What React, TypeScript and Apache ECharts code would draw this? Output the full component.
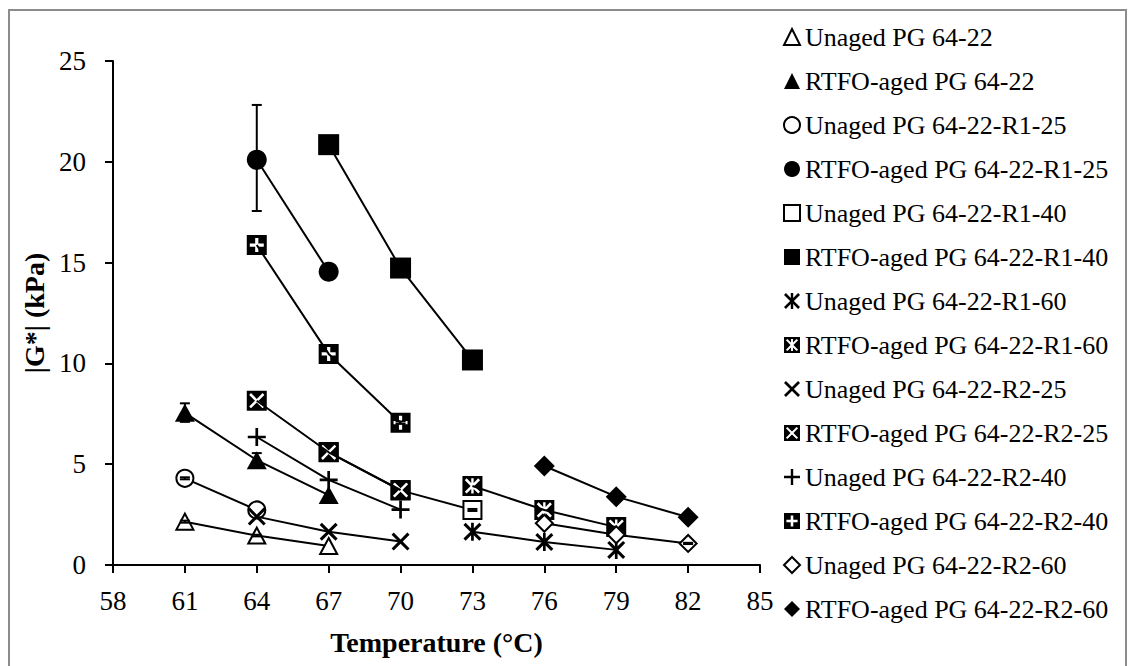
import React, { useEffect, useRef } from "react";
import * as echarts from "echarts";

// ---------- data ----------
const seriesNames = [
  "Unaged PG 64-22",
  "RTFO-aged PG 64-22",
  "Unaged PG 64-22-R1-25",
  "RTFO-aged PG 64-22-R1-25",
  "Unaged PG 64-22-R1-40",
  "RTFO-aged PG 64-22-R1-40",
  "Unaged PG 64-22-R1-60",
  "RTFO-aged PG 64-22-R1-60",
  "Unaged PG 64-22-R2-25",
  "RTFO-aged PG 64-22-R2-25",
  "Unaged PG 64-22-R2-40",
  "RTFO-aged PG 64-22-R2-40",
  "Unaged PG 64-22-R2-60",
  "RTFO-aged PG 64-22-R2-60",
];

const unagedPG6422 = [[61, 2.15], [64, 1.46], [67, 0.94]];
const rtfoPG6422 = [[61, 7.55], [64, 5.2], [67, 3.47]];
const unagedR1_25 = [[61, 4.3], [64, 2.73]];
const rtfoR1_25 = [[64, 20.1], [67, 14.55]];
const unagedR1_40 = [[67, 5.6], [70, 3.7], [73, 2.73]];
const rtfoR1_40 = [[67, 20.85], [70, 14.73], [73, 10.17]];
const unagedR1_60 = [[73, 1.65], [76, 1.14], [79, 0.75]];
const rtfoR1_60 = [[73, 3.92], [76, 2.73], [79, 1.88]];
const unagedR2_25 = [[64, 2.4], [67, 1.65], [70, 1.16]];
const rtfoR2_25 = [[64, 8.15], [67, 5.59], [70, 3.72]];
const unagedR2_40 = [[64, 6.35], [67, 4.22], [70, 2.75]];
const rtfoR2_40 = [[64, 15.87], [67, 10.47], [70, 7.06]];
const unagedR2_60 = [[76, 2.07], [79, 1.5], [82, 1.07]];
const rtfoR2_60 = [[76, 4.91], [79, 3.39], [82, 2.37]];

// [temperature, low, high]
const errorBars = [
  [61, 7.1, 8.02],
  [64, 4.9, 5.55],
  [61, 4.25, 4.35],
  [64, 17.56, 22.82],
  [73, 2.68, 2.78],
  [70, 7.0, 7.12],
  [82, 1.04, 1.1],
  [61, 2.1, 2.2],
  [64, 1.42, 1.5],
];

const xTicks = { min: 58, max: 85, interval: 3 };
const yTicks = { min: 0, max: 25, interval: 5 };

// ---------- marker shapes ----------
type P = number[];
const poly = (pts: P[]) =>
  pts.map((p, i) => (i ? "L" : "M") + p[0].toFixed(2) + "," + p[1].toFixed(2)).join(" ") + " Z";
const squareCCW = poly([[0, 0], [0, 10], [10, 10], [10, 0]]);
const xPoly = (a: number, b: number, t: number): P[] => [
  [a + t, a], [5, 5 - t], [b - t, a], [b, a + t], [5 + t, 5], [b, b - t],
  [b - t, b], [5, 5 + t], [a + t, b], [a, b - t], [5 - t, 5], [a, a + t],
];
const plusPoly = (a: number, b: number, t: number): P[] => [
  [5 - t, a], [5 + t, a], [5 + t, 5 - t], [b, 5 - t], [b, 5 + t], [5 + t, 5 + t],
  [5 + t, b], [5 - t, b], [5 - t, 5 + t], [a, 5 + t], [a, 5 - t], [5 - t, 5 - t],
];
const asteriskPoly = (a: number, b: number, t: number, v: number): P[] => [
  [5 - v, a], [5 + v, a], [5 + v, 5 - v - t], [b - t, a], [b, a + t], [5 + t, 5],
  [b, b - t], [b - t, b], [5 + v, 5 + v + t], [5 + v, b], [5 - v, b], [5 - v, 5 + v + t],
  [a + t, b], [a, b - t], [5 - t, 5], [a, a + t], [a + t, a], [5 - v, 5 - v - t],
];

const SYM_X = "path://" + poly(xPoly(0, 10, 1.2));
const SYM_PLUS = "path://" + poly(plusPoly(0, 10, 0.75));
const SYM_AST = "path://" + poly(asteriskPoly(0, 10, 1.2, 0.75));
const SYM_XSQ = "path://" + squareCCW + " " + poly(xPoly(1.2, 8.8, 0.9));
const SYM_PLUSSQ = "path://" + squareCCW + " " + poly(plusPoly(1.5, 8.5, 0.8));
const SYM_ASTSQ = "path://" + squareCCW + " " + poly(asteriskPoly(1.2, 8.8, 0.9, 0.6));

const FONT = "'Liberation Serif', 'Times New Roman', Times, serif";

const styleDefs: { data: number[][]; symbol: string; size: number | number[]; open: boolean }[] = [
  { data: unagedPG6422, symbol: "triangle", size: [17, 16], open: true },
  { data: rtfoPG6422, symbol: "triangle", size: [20, 18], open: false },
  { data: unagedR1_25, symbol: "circle", size: 17, open: true },
  { data: rtfoR1_25, symbol: "circle", size: 20, open: false },
  { data: unagedR1_40, symbol: "rect", size: 18, open: true },
  { data: rtfoR1_40, symbol: "rect", size: 21, open: false },
  { data: unagedR1_60, symbol: SYM_AST, size: 18, open: false },
  { data: rtfoR1_60, symbol: SYM_ASTSQ, size: 20, open: false },
  { data: unagedR2_25, symbol: SYM_X, size: 18, open: false },
  { data: rtfoR2_25, symbol: SYM_XSQ, size: 20, open: false },
  { data: unagedR2_40, symbol: SYM_PLUS, size: 18, open: false },
  { data: rtfoR2_40, symbol: SYM_PLUSSQ, size: 20, open: false },
  { data: unagedR2_60, symbol: "diamond", size: 17, open: true },
  { data: rtfoR2_60, symbol: "diamond", size: 21, open: false },
];

export default function App() {
  const ref = useRef<HTMLDivElement>(null);
  useEffect(() => {
    if (!ref.current) return;
    const chart = echarts.init(ref.current, undefined, { renderer: "svg" });

    const lineSeries = styleDefs.map((d, i) => ({
      type: "line",
      name: seriesNames[i],
      data: d.data,
      symbol: d.symbol,
      symbolSize: d.size,
      showAllSymbol: true,
      clip: false,
      z: 2 + i * 0.01,
      lineStyle: { color: "#000", width: 2 },
      itemStyle: d.open
        ? { color: "#fff", borderColor: "#000", borderWidth: 2 }
        : { color: "#000", borderColor: "#000", borderWidth: 0 },
      emphasis: { disabled: true },
    }));

    const errSeries = {
      type: "custom",
      name: "errorbars",
      data: errorBars,
      z: 5,
      encode: { x: 0, y: [1, 2] },
      renderItem: (_p: any, api: any) => {
        const x = api.value(0);
        const lo = api.coord([x, api.value(1)]);
        const hi = api.coord([x, api.value(2)]);
        const w = 5;
        const st = { stroke: "#000", lineWidth: 2 };
        return {
          type: "group",
          children: [
            { type: "line", shape: { x1: lo[0], y1: lo[1], x2: hi[0], y2: hi[1] }, style: st },
            { type: "line", shape: { x1: hi[0] - w, y1: hi[1], x2: hi[0] + w, y2: hi[1] }, style: st },
            { type: "line", shape: { x1: lo[0] - w, y1: lo[1], x2: lo[0] + w, y2: lo[1] }, style: st },
          ],
        };
      },
    };

    const axisCommon = {
      type: "value",
      splitLine: { show: false },
      axisLine: { show: true, onZero: false, lineStyle: { color: "#000", width: 2 } },
      axisTick: { show: true, inside: false, length: 8, lineStyle: { color: "#000", width: 2 } },
      nameLocation: "middle",
      nameTextStyle: { fontFamily: FONT, fontSize: 28, fontWeight: "bold", color: "#000" },
    };

    chart.setOption({
      animation: false,
      backgroundColor: "#fff",
      grid: { left: 113, right: 370, top: 61, bottom: 101, containLabel: false },
      xAxis: {
        ...axisCommon,
        min: xTicks.min,
        max: xTicks.max,
        interval: xTicks.interval,
        name: "Temperature (°C)",
        nameGap: 63,
        axisLabel: { fontFamily: FONT, fontSize: 27, color: "#000", margin: 22, showMaxLabel: true, showMinLabel: true },
      },
      yAxis: {
        ...axisCommon,
        min: yTicks.min,
        max: yTicks.max,
        interval: yTicks.interval,
        name: "|G*| (kPa)",
        nameGap: 61,
        axisLabel: { fontFamily: FONT, fontSize: 27, color: "#000", margin: 27 },
      },
      legend: {
        orient: "vertical",
        left: 778,
        top: 19,
        itemWidth: 16,
        itemHeight: 16,
        itemGap: 18,
        selectedMode: false,
        textStyle: { fontFamily: FONT, fontSize: 26, color: "#000", lineHeight: 26 },
        data: seriesNames.map((n, i) => ({ name: n, icon: styleDefs[i].symbol })),
      },
      graphic: [
        {
          type: "rect",
          shape: { x: 9, y: 10, width: 1117, height: 700 },
          style: { fill: "none", stroke: "#8c8c8c", lineWidth: 2 },
          silent: true,
          z: 100,
        },
      ],
      series: [...lineSeries, errSeries],
    });
    return () => chart.dispose();
  }, []);
  return (
    <div
      ref={ref}
      style={{ position: "absolute", left: 0, top: 0, width: 1130, height: 666, background: "#fff" }}
    />
  );
}
